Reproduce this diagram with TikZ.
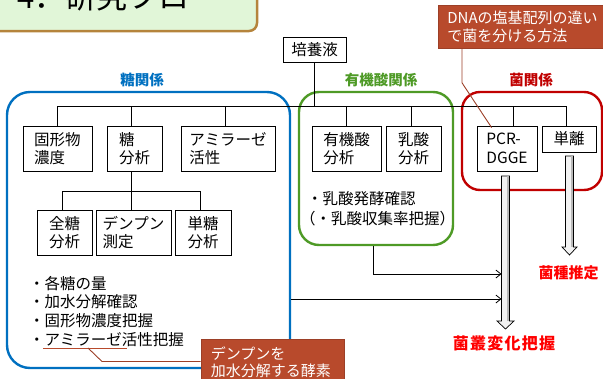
\documentclass[tikz,border=0pt]{standalone}
\usepackage{fontspec}
\newfontfamily\jp{Noto Sans CJK JP}
\usetikzlibrary{arrows.meta,calc}
\definecolor{bluec}{HTML}{0070C0}
\definecolor{greenc}{HTML}{4E9A26}
\definecolor{redc}{HTML}{C00000}
\definecolor{brightred}{HTML}{FF0000}
\definecolor{callfill}{HTML}{B84A2C}
\definecolor{callline}{HTML}{9C3F27}
\definecolor{titlefill}{HTML}{E1F6D8}
\definecolor{titleline}{HTML}{B5843C}
\tikzset{
  box/.style={draw=black, line width=0.8pt, fill=white, inner sep=0pt, align=left,
    font=\jp\fontsize{15.5}{18.5}\selectfont},
  grp/.style={line width=2.4pt, inner sep=0pt},
  head/.style={font=\jp\bfseries\fontsize{14.5}{17}\selectfont, inner sep=0pt},
  conn/.style={draw=black, line width=0.8pt},
  arr/.style={conn, -{Straight Barb[length=5pt,width=8pt]}},
  txt/.style={font=\jp\fontsize{15.5}{18.5}\selectfont, inner sep=0pt, anchor=base west},
  callout/.style={fill=callfill, draw=callline, line width=0.8pt, text=white, align=left,
    anchor=north west, font=\jp\fontsize{15}{17.5}\selectfont},
  ptr/.style={draw=callline, line width=0.9pt},
  blk/.style={draw=black, line width=0.7pt, fill=gray!10},
  blkedge/.style={fill=gray!55},
  result/.style={font=\jp\bfseries\fontsize{15}{18}\selectfont, text=brightred, inner sep=0pt}
}
\begin{document}
\begin{tikzpicture}[x=1pt,y=-1pt]
\useasboundingbox (0,0) rectangle (603,378);
\clip (0,0) rectangle (603,378);

% title
\draw[fill=titlefill, draw=titleline, line width=2.5pt, rounded corners=8pt] (-20,-20) rectangle (257,31);
\node[anchor=base west, inner sep=0pt, font=\jp\fontsize{31}{34}\selectfont] (title) at (17,8) {4．研究フロー};

% group boxes
\node[grp, draw=bluec, rounded corners=23pt, minimum width=283pt, minimum height=276pt] (sugar) at (148.5,230) {};
\node[grp, draw=greenc, rounded corners=20pt, minimum width=154pt, minimum height=153pt] (organic) at (376,168.5) {};
\node[grp, draw=redc, rounded corners=18pt, minimum width=140pt, minimum height=98pt] (bact) at (532,141) {};

% headings
\node[head, text=bluec] (hs) at (142,80) {糖関係};
\node[head, text=greenc] (ho) at (381,80) {有機酸関係};
\node[head, text=redc] (hb) at (531,80) {菌関係};

% top node
\node[box, minimum width=63pt, minimum height=25pt] (baiyo) at (314.5,49.5) {培養液};

% bus
\coordinate (busL) at (57,106);
\coordinate (busR) at (566,106);
\draw[conn] (busL) -- (busR);
\draw[conn] (baiyo.south) -- (baiyo.south |- busL);

% sugar boxes
\node[box, minimum width=69pt, minimum height=45pt] (kokei) at (57.5,148.5) {固形物\\濃度};
\node[box, minimum width=55pt, minimum height=45pt] (tou) at (134.5,148.5) {糖\\分析};
\node[box, minimum width=94pt, minimum height=45pt] (amy) at (228,148.5) {アミラーゼ\\活性};
\draw[conn] (kokei.north) -- (kokei.north |- busL);
\draw[conn] ([xshift=-3.5pt]tou.north) -- ([xshift=-3.5pt]tou.north |- busL);
\draw[conn] ([xshift=-3pt]amy.north) -- ([xshift=-3pt]amy.north |- busL);

\node[box, minimum width=55pt, minimum height=45pt] (zen) at (64.5,232.5) {全糖\\分析};
\node[box, minimum width=75pt, minimum height=45pt] (den) at (133.5,232.5) {デンプン\\測定};
\node[box, minimum width=56pt, minimum height=45pt] (tan) at (203,232.5) {単糖\\分析};
\coordinate (sub) at (0,191);
\draw[conn] ([xshift=-3.5pt]tou.south) -- ([xshift=-3.5pt]tou.south |- sub);
\draw[conn] ([xshift=-1.8pt]zen.north) -- ([xshift=-1.8pt]zen.north |- sub) -- ([xshift=-3pt]tan.north |- sub) -- ([xshift=-3pt]tan.north);
\draw[conn] ([xshift=-2.5pt]den.north) -- ([xshift=-2.5pt]den.north |- sub);

% sugar bullets
\node[txt] (b1) at (29,289) {・各糖の量};
\node[txt] (b2) at (29,307.7) {・加水分解確認};
\node[txt] (b3) at (29,326.3) {・固形物濃度把握};
\node[txt] (b4) at (29,345) {・アミラーゼ活性把握};

% organic boxes
\node[box, minimum width=69pt, minimum height=45pt] (yuuki) at (346.5,148.5) {有機酸\\分析};
\node[box, minimum width=55pt, minimum height=45pt] (nyu) at (413.5,148.5) {乳酸\\分析};
\draw[conn] (yuuki.north) -- (yuuki.north |- busL);
\draw[conn] ([xshift=-2.5pt]nyu.north) -- ([xshift=-2.5pt]nyu.north |- busL);
\node[txt] (o1) at (307,204) {・乳酸発酵確認};
\node[txt] (o2) at (300,224) {（・乳酸収集率把握）};

% bacteria boxes
\node[box, minimum width=60pt, minimum height=45pt] (pcr) at (507,148.5) {PCR-\\DGGE};
\node[box, minimum width=54pt, minimum height=26pt, align=center] (tanri) at (569,139) {単離};
\draw[conn] ([xshift=6pt]pcr.north) -- ([xshift=6pt]pcr.north |- busL);
\draw[conn] ([xshift=-3pt]tanri.north) -- ([xshift=-3pt]tanri.north |- busL);

% block arrows
\coordinate (a1) at (505.5,176);
\draw[blk] ($(a1)+(-4,0)$) -- ++(0,145) -- ++(-4.5,0) -- ($(a1)+(0,153)$) -- ++(8.5,-8) -- ++(-4.5,0) -- ++(0,-145) -- cycle;
\fill[blkedge] ($(a1)+(1.6,0.4)$) rectangle ($(a1)+(3.6,144.6)$);
\coordinate (a2) at (569.5,156);
\draw[blk] ($(a2)+(-4,0)$) -- ++(0,91) -- ++(-3.5,0) -- ($(a2)+(0,99)$) -- ++(7.5,-8) -- ++(-3.5,0) -- ++(0,-91) -- cycle;
\fill[blkedge] ($(a2)+(1.6,0.4)$) rectangle ($(a2)+(3.6,90.6)$);
\coordinate (shaftL) at (501.5,0);

% connectors to the PCR arrow
\draw[arr] ([yshift=-69pt]sugar.east) -- ([yshift=-69pt]sugar.east -| shaftL);
\draw[arr] ([xshift=-3pt]organic.south) |- (shaftL |- 0,274);

% results
\node[result] (shu) at (568.5,273) {菌種推定};
\node[result, font=\jp\bfseries\fontsize{16}{18}\selectfont\addfontfeature{LetterSpace=8}] (sou) at (504,343) {菌叢変化把握};

% callouts
\node[callout, text width=160pt, inner xsep=9pt, minimum height=43pt, inner ysep=0pt] (dna) at (438,5) {DNAの塩基配列の違い\\で菌を分ける方法};
\draw[ptr] ([xshift=24pt]dna.south west) -- ++(0,34) -- ($(pcr.north west)+(15,2)$);

\node[callout, text width=123pt, inner xsep=10pt, minimum height=46pt, inner ysep=0pt] (enz) at (200.5,339) {デンプンを\\加水分解する酵素};
\coordinate (ul1) at (43,348);
\coordinate (ul2) at (127,348);
\draw[ptr, draw=callfill] (ul1) -- (ul2);
\draw[ptr] (88,348) -- (102,361.5) -- (enz.west |- 0,361.5);
\end{tikzpicture}
\end{document}
